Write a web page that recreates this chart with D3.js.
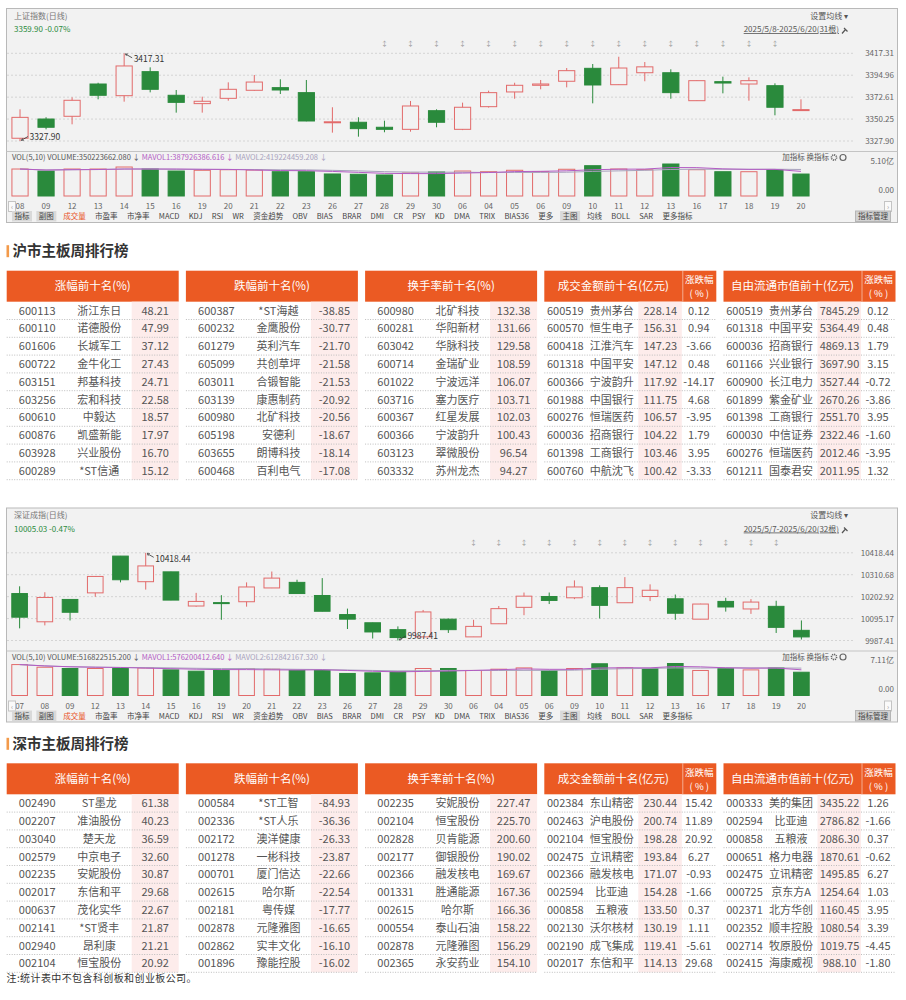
<!DOCTYPE html>
<html>
<head>
<meta charset="utf-8">
<script src="https://cdn.jsdelivr.net/npm/d3@7/dist/d3.min.js"></script>
<style>
body{margin:0;background:#fff;}
svg{display:block;font-family:"Noto Sans CJK SC","Noto Sans",sans-serif;}
</style>
</head>
<body>
<svg id="page" width="906" height="1000"></svg>
<script>
// ---- 上证指数 日线 ----
const shDates = ['08','09','12','13','14','15','16','19','20','21','22','23','26','27','28','29','30','06','04','05','06','09','10','11','12','13','16','17','18','19','20'];
const shOpen  = [3330.7,3350.3,3353.1,3386.0,3374.1,3398.6,3374.5,3366.0,3371.4,3379.6,3382.3,3377.2,3346.9,3347.0,3341.9,3339.8,3358.8,3339.8,3362.9,3377.9,3384.7,3388.8,3402.0,3385.3,3397.5,3397.5,3369.0,3388.4,3386.0,3384.3,3358.9];
const shHigh  = [3360.2,3352.1,3372.4,3387.3,3417.31,3403.0,3379.9,3373.1,3387.7,3395.2,3390.8,3390.1,3362.3,3352.1,3348.6,3368.7,3360.2,3367.0,3379.2,3387.3,3390.1,3402.3,3406.4,3413.8,3408.4,3401.0,3389.6,3393.5,3392.8,3386.7,3370.4];
const shLow   = [3327.90,3339.8,3344.9,3370.4,3368.0,3377.5,3356.8,3356.8,3369.0,3379.0,3375.8,3348.0,3336.4,3332.3,3336.8,3337.4,3341.9,3339.0,3362.0,3371.0,3380.6,3382.6,3366.3,3385.0,3388.8,3371.0,3368.8,3376.5,3369.0,3354.1,3358.6];
const shClose = [3352.0,3341.9,3369.4,3374.5,3404.4,3380.6,3367.3,3368.4,3380.6,3388.0,3379.9,3348.3,3347.5,3340.5,3339.8,3363.6,3347.0,3362.3,3377.2,3384.7,3386.0,3399.6,3385.0,3402.3,3403.5,3377.2,3389.4,3387.0,3389.4,3362.3,3359.90];
const shVol   = [4.30,3.98,4.30,4.30,4.62,4.30,3.98,4.10,4.19,4.14,3.87,3.87,3.51,3.46,3.35,3.67,3.83,3.98,3.87,4.10,3.87,4.26,4.83,4.30,4.19,5.10,4.19,3.87,3.87,4.19,3.50]; // 亿
const shVolInfo = [350223662.080, 387926386.616, 419224459.208];
const shRange = ['2025/5/8', '2025/6/20'];

// ---- 深证成指 日线 ----
const szDates = ['07','08','09','12','13','14','15','16','19','20','21','22','23','26','27','28','29','30','06','04','05','06','09','10','11','12','13','16','17','18','19','20'];
const szOpen  = [10218.2,10079.4,10189.2,10221.5,10402.3,10276.4,10324.8,10156.9,10173.6,10177.9,10245.7,10273.1,10208.6,10114.9,10074.6,10040.7,10005.2,10092.3,10005.2,10069.7,10150.4,10203.7,10197.3,10247.3,10173.0,10203.7,10192.4,10092.3,10179.5,10142.4,10155.3,10037.4];
const szHigh  = [10253.8,10224.7,10190.5,10303.0,10403.0,10418.44,10325.5,10221.5,10210.2,10273.1,10326.4,10286.0,10294.1,10144.0,10075.0,10056.8,10137.5,10095.0,10089.1,10156.9,10223.1,10223.1,10282.8,10258.6,10299.0,10263.4,10213.4,10168.0,10197.3,10190.8,10182.7,10085.9];
const szLow   = [10047.1,10061.7,10085.9,10202.1,10273.1,10237.6,10185.5,10153.7,10089.1,10153.7,10245.0,10218.0,10130.5,10043.9,9997.1,9987.41,10005.0,10024.5,10005.0,10069.5,10111.7,10166.6,10190.8,10095.6,10172.8,10181.1,10089.1,10092.0,10129.4,10118.2,10024.5,9992.2];
const szClose = [10102.0,10198.9,10126.2,10302.2,10286.0,10353.9,10186.0,10179.5,10172.8,10250.5,10294.1,10218.2,10131.1,10092.3,10029.4,10001.9,10127.8,10040.7,10056.8,10144.0,10205.3,10184.3,10250.5,10160.1,10247.3,10234.4,10121.4,10166.6,10152.1,10176.3,10052.0,10005.03];
const szVol   = [6.87,6.28,6.00,6.00,6.00,6.13,5.69,5.40,5.56,6.00,5.84,5.56,5.56,4.90,5.03,5.25,6.00,6.00,5.56,5.84,6.13,5.56,6.00,7.05,6.13,6.00,7.11,5.56,6.00,5.69,6.13,5.17];
const szVolInfo = [516822515.200, 576200412.640, 612842167.320];
const szRange = ['2025/5/7', '2025/6/20'];

const toolItems = ['指标','副图','成交量','市盈率','市净率','MACD','KDJ','RSI','WR','资金趋势','OBV','BIAS','BRAR','DMI','CR','PSY','KD','DMA','TRIX','BIAS36','更多','主图','均线','BOLL','SAR','更多指标'];

// ---- 沪市主板周排行榜 ----
const boardHeaders = ['涨幅前十名(%)','跌幅前十名(%)','换手率前十名(%)','成交金额前十名(亿元)','自由流通市值前十(亿元)'];
const shGainers = [['600113','浙江东日',48.21],['600110','诺德股份',47.99],['601606','长城军工',37.12],['600722','金牛化工',27.43],['603151','邦基科技',24.71],['603256','宏和科技',22.58],['600610','中毅达',18.57],['600876','凯盛新能',17.97],['603928','兴业股份',16.70],['600289','*ST信通',15.12]];
const shLosers = [['600387','*ST海越',-38.85],['600232','金鹰股份',-30.77],['601279','英利汽车',-21.70],['605099','共创草坪',-21.58],['603011','合锻智能',-21.53],['603139','康惠制药',-20.92],['600980','北矿科技',-20.56],['605198','安德利',-18.67],['603655','朗博科技',-18.14],['600468','百利电气',-17.08]];
const shTurnover = [['600980','北矿科技',132.38],['600281','华阳新材',131.66],['603042','华脉科技',129.58],['600714','金瑞矿业',108.59],['601022','宁波远洋',106.07],['603716','塞力医疗',103.71],['600367','红星发展',102.03],['600366','宁波韵升',100.43],['603123','翠微股份',96.54],['603332','苏州龙杰',94.27]];
const shAmount = [['600519','贵州茅台',228.14,0.12],['600570','恒生电子',156.31,0.94],['600418','江淮汽车',147.23,-3.66],['601318','中国平安',147.12,0.48],['600366','宁波韵升',117.92,-14.17],['601988','中国银行',111.75,4.68],['600276','恒瑞医药',106.57,-3.95],['600036','招商银行',104.22,1.79],['601398','工商银行',103.46,3.95],['600760','中航沈飞',100.42,-3.33]];
const shFloatCap = [['600519','贵州茅台',7845.29,0.12],['601318','中国平安',5364.49,0.48],['600036','招商银行',4869.13,1.79],['601166','兴业银行',3697.90,3.15],['600900','长江电力',3527.44,-0.72],['601899','紫金矿业',2670.26,-3.86],['601398','工商银行',2551.70,3.95],['600030','中信证券',2322.46,-1.60],['600276','恒瑞医药',2012.46,-3.95],['601211','国泰君安',2011.95,1.32]];

// ---- 深市主板周排行榜 ----
const szGainers = [['002490','ST墨龙',61.38],['002207','准油股份',40.23],['003040','楚天龙',36.59],['002579','中京电子',32.60],['002235','安妮股份',30.87],['002017','东信和平',29.68],['000637','茂化实华',22.67],['002141','*ST贤丰',21.87],['002940','昂利康',21.21],['002104','恒宝股份',20.92]];
const szLosers = [['000584','*ST工智',-84.93],['002336','*ST人乐',-36.36],['002172','澳洋健康',-26.33],['001278','一彬科技',-23.87],['000701','厦门信达',-22.66],['002615','哈尔斯',-22.54],['002181','粤传媒',-17.77],['002878','元隆雅图',-16.65],['002862','实丰文化',-16.10],['001896','豫能控股',-16.02]];
const szTurnover = [['002235','安妮股份',227.47],['002104','恒宝股份',225.70],['002828','贝肯能源',200.60],['002177','御银股份',190.02],['002366','融发核电',169.67],['001331','胜通能源',167.36],['002615','哈尔斯',166.36],['000554','泰山石油',158.22],['002878','元隆雅图',156.29],['002365','永安药业',154.10]];
const szAmount = [['002384','东山精密',230.44,15.42],['002463','沪电股份',200.74,11.89],['002104','恒宝股份',198.28,20.92],['002475','立讯精密',193.84,6.27],['002366','融发核电',171.07,-0.93],['002594','比亚迪',154.28,-1.66],['000858','五粮液',133.50,0.37],['002130','沃尔核材',130.19,1.11],['002190','成飞集成',119.41,-5.61],['002017','东信和平',114.13,29.68]];
const szFloatCap = [['000333','美的集团',3435.22,1.26],['002594','比亚迪',2786.82,-1.66],['000858','五粮液',2086.30,0.37],['000651','格力电器',1870.61,-0.62],['002475','立讯精密',1495.85,6.27],['000725','京东方A',1254.64,1.03],['002371','北方华创',1160.45,3.95],['002352','顺丰控股',1080.54,3.39],['002714','牧原股份',1019.75,-4.45],['002415','海康威视',988.10,-1.80]];

const svg = d3.select('#page');
const RED = '#e26a6a', GREEN = '#2a8a3c', PANEL = '#f2f2f2', ORANGE = '#eb5a23';

svg.append('defs').append('marker').attr('id', 'arr')
  .attr('viewBox', '0 0 6 6').attr('refX', 5).attr('refY', 3)
  .attr('markerWidth', 4).attr('markerHeight', 4).attr('orient', 'auto')
  .append('path').attr('d', 'M0,0L6,3L0,6').attr('fill', 'none').attr('stroke', '#333');

function drawKline(top, k) {
  const g = svg.append('g').attr('transform', `translate(0,${top})`);
  const n = k.dates.length;
  g.append('rect').attr('x', 6.5).attr('y', 0.5).attr('width', 891).attr('height', 214)
    .attr('fill', PANEL).attr('stroke', '#b9b9b9');

  const x = d3.scaleBand().domain(d3.range(n)).range([7, 814]).paddingInner(0.34).paddingOuter(0.17);
  const cx = i => x(i) + x.bandwidth() / 2;
  const lo = d3.min(k.low), hi = d3.max(k.high);
  const y = d3.scaleLinear().domain([lo, hi]).range([133, 45.3]);
  const vmax = d3.max(k.vol);
  const yv = d3.scaleLinear().domain([0, vmax]).range([188, 156]);

  // header
  const last = k.close[n - 1], prev = k.close[n - 2];
  g.append('text').attr('x', 14).attr('y', 10.5).attr('font-size', 8).attr('fill', '#777').text(k.title);
  g.append('text').attr('x', 14).attr('y', 24).attr('font-size', 8).attr('fill', GREEN)
    .text(`${last.toFixed(2)} ${((last / prev - 1) * 100).toFixed(2)}%`);
  g.append('text').attr('x', 848).attr('y', 10.5).attr('text-anchor', 'end').attr('font-size', 8).attr('fill', '#555').text('设置均线 ▾');
  g.append('text').attr('x', 839).attr('y', 24).attr('text-anchor', 'end').attr('font-size', 8).attr('fill', '#555')
    .attr('text-decoration', 'underline').text(`${k.range[0]}-${k.range[1]}(${n}根)`);
  g.append('path').attr('d', 'M842,25.5L845.5,21.5M844,20L847.5,23.5').attr('stroke', '#555').attr('stroke-width', 1.2);

  // grid + y labels
  const ticks = d3.range(5).map(j => lo + j * (hi - lo) / 4);
  g.selectAll('.grid').data(ticks).join('line').attr('class', 'grid')
    .attr('x1', 7).attr('x2', 855).attr('y1', d => y(d)).attr('y2', d => y(d))
    .attr('stroke', '#d4d4d4').attr('stroke-dasharray', '2,2');
  g.selectAll('.ylab').data(ticks).join('text').attr('class', 'ylab')
    .attr('x', 894).attr('y', d => y(d) + 3).attr('text-anchor', 'end')
    .attr('font-size', 8).attr('fill', '#666').text(d => d.toFixed(2));

  // event marks
  g.selectAll('.mk').data(k.marks).join('text').attr('class', 'mk')
    .attr('x', cx).attr('y', 37.5).attr('text-anchor', 'middle').attr('font-size', 7).attr('fill', '#9a9a9a').text('↕');

  // candles
  const up = i => k.close[i] >= k.open[i];
  const idx = d3.range(n);
  g.selectAll('.wick').data(idx).join('line').attr('class', 'wick')
    .attr('x1', cx).attr('x2', cx)
    .attr('y1', i => y(k.high[i])).attr('y2', i => y(k.low[i]))
    .attr('stroke', i => up(i) ? RED : GREEN);
  g.selectAll('.body').data(idx).join('rect').attr('class', 'body')
    .attr('x', i => x(i) + 0.5).attr('width', x.bandwidth() - 1)
    .attr('y', i => y(Math.max(k.open[i], k.close[i])))
    .attr('height', i => Math.max(1, Math.abs(y(k.open[i]) - y(k.close[i]))))
    .attr('fill', i => up(i) ? PANEL : GREEN)
    .attr('stroke', i => up(i) ? RED : GREEN);

  // high / low notes
  const note = (i, v, s) => {
    const px = cx(i), py = y(v);
    g.append('line').attr('x1', px + 8).attr('y1', py + 4.5 * s).attr('x2', px + 1.5).attr('y2', py + 0.8 * s)
      .attr('stroke', '#333').attr('stroke-width', 0.8).attr('marker-end', 'url(#arr)');
    g.append('text').attr('x', px + 9.5).attr('y', s > 0 ? py + 9 : py - 1.5)
      .attr('font-size', 8.5).attr('fill', '#333').text(v.toFixed(2));
  };
  note(d3.maxIndex(k.high), hi, 1);
  note(d3.minIndex(k.low), lo, -1);

  // volume panel
  g.append('line').attr('x1', 6.5).attr('x2', 897.5).attr('y1', 143.5).attr('y2', 143.5).attr('stroke', '#c4c4c4');
  const vt = g.append('text').attr('x', 12).attr('y', 152).attr('font-size', 7.5);
  vt.append('tspan').attr('fill', '#555').text(`VOL(5,10)  VOLUME:${k.volInfo[0].toFixed(3)} ↓  `);
  vt.append('tspan').attr('fill', '#b35cc4').text(`MAVOL1:${k.volInfo[1].toFixed(3)} ↓  `);
  vt.append('tspan').attr('fill', '#a8a2bd').text(`MAVOL2:${k.volInfo[2].toFixed(3)} ↓`);
  g.append('text').attr('x', 829).attr('y', 152).attr('text-anchor', 'end').attr('font-size', 7.5).attr('fill', '#555').text('加指标 换指标');
  g.append('circle').attr('cx', 834).attr('cy', 149.5).attr('r', 2.6).attr('fill', 'none').attr('stroke', '#666').attr('stroke-width', 1.6).attr('stroke-dasharray', '1.2,0.8');
  g.append('circle').attr('cx', 843).attr('cy', 149.5).attr('r', 3).attr('fill', 'none').attr('stroke', '#666').attr('stroke-width', 1.2);

  const volUp = i => k.close[i] >= (i ? k.close[i - 1] : k.prevClose);
  g.selectAll('.vbar').data(idx).join('rect').attr('class', 'vbar')
    .attr('x', i => x(i) + 0.5).attr('width', x.bandwidth() - 1)
    .attr('y', i => yv(k.vol[i])).attr('height', i => 188 - yv(k.vol[i]))
    .attr('fill', i => volUp(i) ? 'none' : GREEN)
    .attr('stroke', i => volUp(i) ? RED : GREEN);
  const ma = p => k.vol.map((_, i) => d3.mean(k.vol.slice(Math.max(0, i - p + 1), i + 1)));
  const ln = d3.line().x((d, i) => cx(i)).y(d => yv(d));
  g.append('path').attr('d', ln(ma(10))).attr('fill', 'none').attr('stroke', '#a8a2bd').attr('stroke-width', 1);
  g.append('path').attr('d', ln(ma(5))).attr('fill', 'none').attr('stroke', '#b35cc4').attr('stroke-width', 1);
  g.append('text').attr('x', 894).attr('y', 155.5).attr('text-anchor', 'end').attr('font-size', 8).attr('fill', '#666').text(vmax.toFixed(2) + '亿');
  g.append('text').attr('x', 894).attr('y', 184.5).attr('text-anchor', 'end').attr('font-size', 8).attr('fill', '#666').text('0.00');

  // x labels
  g.selectAll('.xlab').data(idx).join('text').attr('class', 'xlab')
    .attr('x', cx).attr('y', 201).attr('text-anchor', 'middle')
    .attr('font-size', 8).attr('fill', '#666').text(i => k.dates[i]);
  [[8.5, '‹'], [884.5, '›']].forEach(([bx, ch]) => {
    g.append('rect').attr('x', bx).attr('y', 193.5).attr('width', 7).attr('height', 10).attr('fill', '#fafafa').attr('stroke', '#c4c4c4');
    g.append('text').attr('x', bx + 3.5).attr('y', 201).attr('text-anchor', 'middle').attr('font-size', 7).attr('fill', '#999').text(ch);
  });

  // toolbar
  const tb = g.append('g');
  const items = toolItems.map(label => {
    const t = tb.append('text').attr('y', 211).attr('font-size', 7.5)
      .attr('fill', label === '成交量' ? '#e8541e' : '#444').text(label);
    return { label, t, w: t.node().getComputedTextLength() };
  });
  const firstC = 22, lastC = 677.5;
  const sumW = d3.sum(items, d => d.w);
  const gap = (lastC - firstC - (sumW - (items[0].w + items[items.length - 1].w) / 2)) / (items.length - 1);
  let tx = firstC - items[0].w / 2;
  items.forEach(d => {
    if (['指标', '副图', '主图'].includes(d.label)) {
      tb.insert('rect', 'text').attr('x', tx - 2.5).attr('y', 203).attr('width', d.w + 5).attr('height', 10.5).attr('fill', '#d9d9d9');
    }
    d.t.attr('x', tx);
    tx += d.w + gap;
  });
  g.append('rect').attr('x', 855.5).attr('y', 203).attr('width', 35).attr('height', 10.5).attr('fill', '#d2d2d2').attr('stroke', '#b5b5b5');
  g.append('text').attr('x', 873).attr('y', 211).attr('text-anchor', 'middle').attr('font-size', 7.5).attr('fill', '#444').text('指标管理');
}

drawKline(8, {
  title: '上证指数(日线)', range: shRange, dates: shDates, open: shOpen, high: shHigh, low: shLow,
  close: shClose, vol: shVol, volInfo: shVolInfo, prevClose: 3342.67, marks: d3.range(14, 30)
});
drawKline(507.5, {
  title: '深证成指(日线)', range: szRange, dates: szDates, open: szOpen, high: szHigh, low: szLow,
  close: szClose, vol: szVol, volInfo: szVolInfo, prevClose: 10084.0, marks: d3.range(18, 31)
});

function drawBoard(top, title, groups) {
  const g = svg.append('g');
  g.append('rect').attr('x', 6.5).attr('y', top - 25.5).attr('width', 2.6).attr('height', 12).attr('fill', '#f39a4a');
  g.append('text').attr('x', 12.5).attr('y', top - 14.8).attr('font-size', 14.5).attr('font-weight', 'bold')
    .attr('fill', '#333').text(title);
  const rowH = 17.8, headH = 31;
  groups.forEach((rows, gi) => {
    const x0 = 6.7 + gi * 179.2, wide = rows[0].length === 4;
    const gg = g.append('g').attr('transform', `translate(${x0},${top})`);
    gg.append('rect').attr('width', 172).attr('height', headH).attr('fill', ORANGE);
    if (wide) {
      gg.append('line').attr('x1', 138.5).attr('x2', 138.5).attr('y1', 0).attr('y2', headH).attr('stroke', '#fff').attr('stroke-opacity', 0.5);
      gg.append('text').attr('x', 69).attr('y', 19.5).attr('text-anchor', 'middle').attr('font-size', 11.5).attr('fill', '#fff').text(boardHeaders[gi]);
      gg.append('text').attr('x', 155).attr('y', 12.5).attr('text-anchor', 'middle').attr('font-size', 9.5).attr('fill', '#fff').text('涨跌幅');
      gg.append('text').attr('x', 155).attr('y', 26.6).attr('text-anchor', 'middle').attr('font-size', 9.5).attr('fill', '#fff').text('( % )');
    } else {
      gg.append('text').attr('x', 86).attr('y', 19.5).attr('text-anchor', 'middle').attr('font-size', 11.5).attr('fill', '#fff').text(boardHeaders[gi]);
    }
    const pink = wide ? [94, 137.5] : [125, 172];
    gg.append('rect').attr('x', pink[0]).attr('y', headH).attr('width', pink[1] - pink[0]).attr('height', rowH * rows.length).attr('fill', '#fdeceb');
    const cols = wide ? [21, 67.5, 116, 154.5] : [30.5, 92.5, 148.5];
    rows.forEach((row, r) => {
      const cy = headH + rowH * r + rowH / 2 + 4;
      row.forEach((v, c) => {
        gg.append('text').attr('x', cols[c]).attr('y', cy).attr('text-anchor', 'middle')
          .attr('font-size', 11).attr('fill', '#555')
          .text(typeof v === 'number' ? v.toFixed(2) : v);
      });
      gg.append('line').attr('x1', 0).attr('x2', 172).attr('y1', headH + rowH * (r + 1)).attr('y2', headH + rowH * (r + 1))
        .attr('stroke', '#bdbdbd').attr('stroke-dasharray', '1,1.5');
    });
  });
}

drawBoard(270.7, '沪市主板周排行榜', [shGainers, shLosers, shTurnover, shAmount, shFloatCap]);
drawBoard(763.3, '深市主板周排行榜', [szGainers, szLosers, szTurnover, szAmount, szFloatCap]);

svg.append('text').attr('x', 6.5).attr('y', 982).attr('font-size', 10).attr('letter-spacing', 0.4)
  .attr('fill', '#333').text('注:统计表中不包含科创板和创业板公司。');
</script>
</body>
</html>
